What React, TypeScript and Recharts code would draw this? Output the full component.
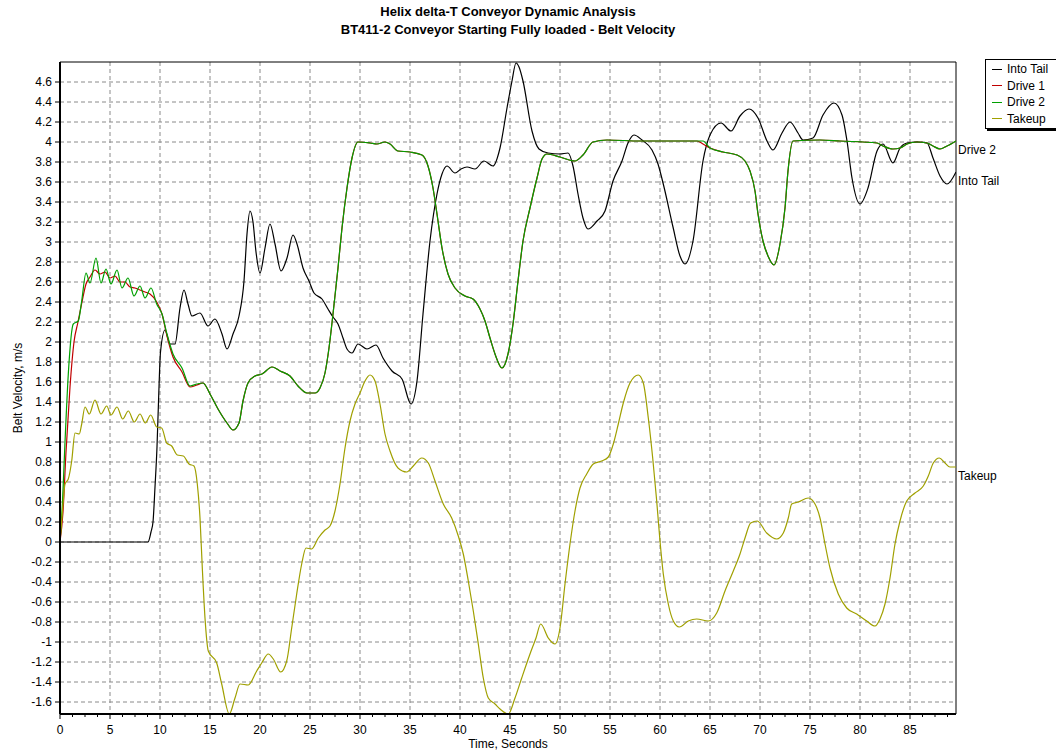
import React from 'react';
import { LineChart, Line, XAxis, YAxis, CartesianGrid, Legend, ReferenceArea } from 'recharts';

const FONT = '"Liberation Sans", Arial, sans-serif';

const titleLines = [
  'Helix delta-T Conveyor Dynamic Analysis',
  'BT411-2 Conveyor Starting Fully loaded - Belt Velocity',
];
const xAxisTitle = 'Time, Seconds';
const yAxisTitle = 'Belt Velocity, m/s';

const xMajorTicks = [0, 5, 10, 15, 20, 25, 30, 35, 40, 45, 50, 55, 60, 65, 70, 75, 80, 85];
const xMinorSteps = [0, 1.25, 2.5, 3.75];
const yTicks = [-1.6, -1.4, -1.2, -1, -0.8, -0.6, -0.4, -0.2, 0, 0.2, 0.4, 0.6, 0.8, 1, 1.2, 1.4, 1.6, 1.8, 2, 2.2, 2.4, 2.6, 2.8, 3, 3.2, 3.4, 3.6, 3.8, 4, 4.2, 4.4, 4.6];
const xDomain: [number, number] = [0, 89.6];
const yDomain: [number, number] = [-1.72, 4.8];

const seriesNames = ['Into Tail', 'Drive 1', 'Drive 2', 'Takeup'];
const seriesColors = ['#000000', '#c00000', '#00a000', '#a0a000'];
const endLabels = ['Into Tail', '', 'Drive 2', 'Takeup'];

// [time s, velocity m/s]
const intoTail: [number, number][] = [
  [0, 0], [8.8, 0], [9.1, 0.1], [9.3, 0.2], [9.5, 0.55], [9.7, 0.95], [9.85, 1.4], [10.05, 1.9], [10.5, 2.12], [11, 1.98], [11.5, 1.98],
  [12, 2.34], [12.4, 2.52], [12.8, 2.38], [13.2, 2.26], [14, 2.29], [14.8, 2.16], [15.5, 2.23], [16.2, 2.08], [16.7, 1.93], [17.3, 2.08],
  [17.9, 2.26], [18.4, 2.61], [18.7, 3.08], [19, 3.31], [19.3, 3.2], [19.6, 2.9], [20, 2.69], [20.5, 2.94], [21, 3.18], [21.5, 2.98],
  [22.1, 2.71], [22.7, 2.84], [23.3, 3.07], [23.7, 2.98], [24.3, 2.74], [24.9, 2.61], [25.4, 2.49], [26.2, 2.43], [26.8, 2.33], [27.3, 2.25],
  [27.8, 2.18], [28.3, 2.04], [28.7, 1.93], [29.2, 1.89], [29.8, 1.98], [30.7, 1.93], [31.6, 1.97], [32.3, 1.84], [33.2, 1.71], [34.2, 1.63],
  [35.1, 1.38], [35.7, 1.61], [36.3, 2.28], [37, 3.01], [37.7, 3.48], [38.2, 3.68], [38.7, 3.76], [39.5, 3.69], [40.1, 3.73], [40.7, 3.75],
  [41.5, 3.73], [42.4, 3.81], [43.3, 3.76], [44, 3.94], [44.7, 4.34], [45.2, 4.61], [45.6, 4.79], [45.9, 4.75], [46.3, 4.61], [47.2, 4.11],
  [47.9, 3.93], [48.8, 3.89], [50, 3.88], [50.8, 3.89], [51.3, 3.76], [51.8, 3.48], [52.3, 3.24], [52.8, 3.13], [53.7, 3.21], [54.5, 3.31],
  [55.3, 3.61], [56.2, 3.81], [56.8, 3.99], [57.4, 4.07], [58.2, 4.02], [59.2, 3.92], [59.8, 3.78], [60.4, 3.55], [61.3, 3.15], [62, 2.86],
  [62.5, 2.78], [63.3, 3.01], [64.3, 3.81], [65, 4.07], [66.1, 4.19], [67.1, 4.11], [68, 4.26], [68.9, 4.33], [69.8, 4.24], [70.7, 4.01],
  [71.3, 3.92], [72.2, 4.09], [73, 4.2], [73.8, 4.09], [74.3, 4.02], [75.3, 4.04], [76.3, 4.27], [77.4, 4.39], [78.2, 4.27], [78.7, 4.01],
  [79.2, 3.64], [80, 3.38], [80.8, 3.54], [81.7, 3.91], [82.3, 3.98], [83.3, 3.79], [84, 3.94], [84.7, 3.99], [85.7, 4.0], [86.7, 3.99],
  [87.3, 3.84], [88, 3.66], [88.7, 3.58], [89.6, 3.7],
];

const drive1: [number, number][] = [
  [0, 0], [0.3, 0.3], [0.6, 0.9], [1, 1.55], [1.4, 2.0], [1.8, 2.2], [2.2, 2.4], [2.6, 2.58], [3, 2.65], [3.5, 2.72], [4, 2.68],
  [4.5, 2.7], [5, 2.64], [5.5, 2.66], [6, 2.6], [6.5, 2.6], [7, 2.55], [7.5, 2.54], [8, 2.52], [8.5, 2.5], [9, 2.48], [9.67, 2.4],
  [10.2, 2.28], [10.7, 2.06], [11.3, 1.85], [12.2, 1.7], [13, 1.55], [13.7, 1.57], [14.3, 1.59], [15, 1.48], [15.8, 1.33], [16.7, 1.19],
  [17.3, 1.12], [17.9, 1.19], [18.3, 1.41], [18.8, 1.59], [19.5, 1.66], [20.2, 1.68], [21.2, 1.75], [22, 1.71], [23, 1.66], [23.8, 1.56],
  [24.7, 1.49], [25.5, 1.49], [26, 1.54], [26.5, 1.69], [26.9, 1.94], [27.3, 2.28], [27.8, 2.74], [28.2, 3.14], [28.7, 3.54], [29.2, 3.84],
  [29.8, 4.0], [31, 3.99], [31.7, 3.98], [32.5, 4.0], [33, 3.98], [33.8, 3.91], [35, 3.9], [36.2, 3.87], [36.8, 3.76], [37.3, 3.54],
  [37.7, 3.28], [38.2, 2.94], [38.8, 2.68], [39.5, 2.54], [40.5, 2.46], [41.3, 2.43], [42, 2.33], [42.5, 2.21], [43, 2.04], [43.5, 1.88],
  [44.2, 1.74], [44.8, 1.88], [45.3, 2.18], [45.8, 2.61], [46.3, 3.01], [47, 3.34], [47.7, 3.64], [48.2, 3.83], [48.7, 3.88], [50, 3.85],
  [51.5, 3.81], [52.3, 3.87], [53.3, 4.0], [54.7, 4.02], [58, 4.01], [62, 4.01], [63.7, 4.01], [64.3, 3.98], [65, 3.94], [66.3, 3.9],
  [67.7, 3.87], [68.5, 3.81], [69, 3.71], [69.5, 3.51], [69.8, 3.28], [70.3, 3.01], [70.8, 2.86], [71.4, 2.77], [72, 2.98], [72.5, 3.34],
  [72.8, 3.71], [73.3, 4.01], [76, 4.02], [78, 4.01], [81.7, 3.99], [82.3, 3.96], [83.3, 3.93], [84, 3.94], [84.7, 3.98], [85.7, 4.0],
  [86.7, 3.99], [87.3, 3.96], [88, 3.93], [88.7, 3.96], [89.6, 4.01],
];

const drive2: [number, number][] = [
  [0, 0], [0.25, 0.4], [0.5, 1.0], [0.83, 1.68], [1.33, 2.18], [1.83, 2.21], [2.17, 2.41], [2.6, 2.69], [3, 2.59], [3.6, 2.84], [4.1, 2.59],
  [4.6, 2.73], [5.1, 2.58], [5.7, 2.72], [6.2, 2.54], [6.8, 2.64], [7.4, 2.46], [8, 2.56], [8.5, 2.44], [9.1, 2.54], [9.67, 2.38],
  [10.2, 2.28], [10.7, 2.08], [11.3, 1.88], [12.2, 1.74], [13, 1.56], [13.7, 1.58], [14.3, 1.59], [15, 1.48], [15.8, 1.33], [16.7, 1.19],
  [17.3, 1.12], [17.9, 1.19], [18.3, 1.41], [18.8, 1.59], [19.5, 1.66], [20.2, 1.68], [21.2, 1.75], [22, 1.71], [23, 1.66], [23.8, 1.56],
  [24.7, 1.49], [25.5, 1.49], [26, 1.54], [26.5, 1.69], [26.9, 1.94], [27.3, 2.28], [27.8, 2.74], [28.2, 3.14], [28.7, 3.54], [29.2, 3.84],
  [29.8, 4.0], [31, 3.99], [31.7, 3.98], [32.5, 4.0], [33, 3.98], [33.8, 3.91], [35, 3.9], [36.2, 3.87], [36.8, 3.76], [37.3, 3.54],
  [37.7, 3.28], [38.2, 2.94], [38.8, 2.68], [39.5, 2.54], [40.5, 2.46], [41.3, 2.43], [42, 2.33], [42.5, 2.21], [43, 2.04], [43.5, 1.88],
  [44.2, 1.74], [44.8, 1.88], [45.3, 2.18], [45.8, 2.61], [46.3, 3.01], [47, 3.34], [47.7, 3.64], [48.2, 3.83], [48.7, 3.88], [50, 3.85],
  [51.5, 3.81], [52.3, 3.87], [53.3, 4.0], [54.7, 4.02], [58, 4.01], [62, 4.01], [64.3, 4.01], [65, 3.94], [66.3, 3.9], [67.7, 3.87],
  [68.5, 3.81], [69, 3.71], [69.5, 3.51], [69.8, 3.28], [70.3, 3.01], [70.8, 2.86], [71.4, 2.77], [72, 2.98], [72.5, 3.34], [72.8, 3.71],
  [73.3, 4.01], [76, 4.02], [78, 4.01], [81.7, 3.99], [82.3, 3.96], [83.3, 3.93], [84, 3.94], [84.7, 3.98], [85.7, 4.0], [86.7, 3.99],
  [87.3, 3.96], [88, 3.93], [88.7, 3.96], [89.6, 4.01],
];

const takeup: [number, number][] = [
  [0, 0.01], [0.27, 0.34], [0.5, 0.58], [0.83, 0.63], [1.17, 0.81], [1.5, 1.09], [1.93, 1.08], [2.17, 1.18], [2.5, 1.35], [2.93, 1.28],
  [3.5, 1.42], [4.1, 1.28], [4.67, 1.36], [5.1, 1.27], [5.7, 1.35], [6.27, 1.23], [6.83, 1.31], [7.43, 1.2], [8, 1.28], [8.53, 1.19],
  [9.07, 1.27], [9.67, 1.15], [10.17, 1.14], [10.67, 0.99], [11.17, 0.96], [11.73, 0.87], [12.33, 0.86], [12.9, 0.78], [13.4, 0.76],
  [13.73, 0.58], [14, 0.24], [14.23, -0.26], [14.5, -0.76], [14.83, -1.09], [15.67, -1.21], [16.17, -1.42], [16.93, -1.72], [17.5, -1.56],
  [18, -1.42], [18.83, -1.43], [19.67, -1.29], [20.17, -1.21], [20.83, -1.12], [21.33, -1.17], [22.07, -1.3], [22.67, -1.19], [23.17, -0.86],
  [23.67, -0.52], [24.17, -0.22], [24.6, -0.06], [25.17, -0.07], [25.83, 0.04], [26.5, 0.12], [27, 0.16], [27.5, 0.31], [28, 0.58],
  [28.5, 0.94], [29, 1.21], [29.5, 1.38], [30, 1.49], [30.5, 1.61], [31, 1.67], [31.5, 1.61], [32, 1.38], [32.5, 1.08], [33, 0.91],
  [33.8, 0.74], [34.67, 0.7], [35.33, 0.76], [36.17, 0.84], [36.83, 0.79], [37.5, 0.61], [38.33, 0.38], [39.17, 0.24], [39.83, 0.06],
  [40.33, -0.12], [40.83, -0.39], [41.33, -0.69], [41.83, -1.02], [42.33, -1.36], [42.83, -1.56], [43.5, -1.62], [44, -1.67], [44.83, -1.72],
  [45.5, -1.56], [46.17, -1.36], [47, -1.12], [47.6, -0.96], [48.07, -0.82], [48.83, -0.96], [49.5, -1.02], [50, -0.86], [50.5, -0.42],
  [51, -0.02], [51.5, 0.31], [52, 0.54], [52.67, 0.68], [53.33, 0.78], [54.17, 0.81], [54.83, 0.85], [55.33, 0.98], [55.83, 1.18],
  [56.33, 1.39], [57, 1.59], [57.83, 1.67], [58.33, 1.59], [58.83, 1.24], [59.27, 0.84], [59.67, 0.41], [60, 0.01], [60.33, -0.32],
  [60.83, -0.62], [61.33, -0.79], [61.93, -0.85], [62.83, -0.79], [63.67, -0.77], [64.83, -0.79], [65.67, -0.71], [66.5, -0.49],
  [67.33, -0.29], [68, -0.12], [68.5, 0.04], [69.07, 0.19], [69.73, 0.21], [70.67, 0.09], [71.67, 0.03], [72.33, 0.09], [72.83, 0.24],
  [73.17, 0.38], [73.83, 0.4], [74.83, 0.44], [75.5, 0.38], [76, 0.24], [76.5, -0.02], [77, -0.26], [77.83, -0.52], [78.67, -0.66],
  [79.67, -0.72], [80.67, -0.79], [81.5, -0.84], [82, -0.77], [82.5, -0.62], [83, -0.36], [83.5, -0.02], [84, 0.21], [84.67, 0.41],
  [85.5, 0.49], [86.33, 0.56], [86.83, 0.66], [87.33, 0.79], [87.93, 0.84], [88.5, 0.79], [89, 0.75], [89.6, 0.75],
];

const seriesPoints = [intoTail, drive1, drive2, takeup];
const seriesData = seriesPoints.map((pts) => pts.map(([t, v]) => ({ t, v })));

const xAllTicks: number[] = [];
xMajorTicks.forEach((m) => xMinorSteps.forEach((s) => { if (m + s <= xDomain[1]) xAllTicks.push(m + s); }));

const X_TICK_SIZE = 6;
const X_TICK_MARGIN = 4;

const XTick = (props: any) => {
  const { x, y, payload } = props;
  const v = payload.value;
  const major = xMajorTicks.indexOf(v) >= 0;
  const axisY = y - X_TICK_SIZE - X_TICK_MARGIN;
  return (
    <g>
      <line x1={x} x2={x} y1={axisY} y2={axisY + (major ? 5 : 3)} stroke="#000" strokeWidth={1} />
      {major && (
        <text x={x} y={y} dy="0.8em" textAnchor="middle" fontSize={12} fontFamily={FONT} fill="#000">
          {v}
        </text>
      )}
    </g>
  );
};

const makeEndLabel = (text: string, lastIndex: number) => (props: any) => {
  if (!text || props.index !== lastIndex) return null;
  return (
    <text x={props.x + 2} y={props.y + 13} fontSize={12} fontFamily={FONT} fill="#000">
      {text}
    </text>
  );
};

const LegendBox = () => (
  <div
    style={{
      border: '1px solid #000',
      boxShadow: '2px 2px 0 #000',
      background: '#fff',
      padding: '1px 6px 1px 6px',
      fontFamily: FONT,
      fontSize: 12,
      width: 100,
      boxSizing: 'border-box',
    }}
  >
    {seriesNames.map((name, i) => (
      <div key={name} style={{ display: 'flex', alignItems: 'center', height: 16.5, whiteSpace: 'nowrap', color: '#000' }}>
        <span style={{ display: 'inline-block', width: 10, height: 0, borderTop: `1.5px solid ${seriesColors[i]}`, marginRight: 5 }} />
        <span>{name}</span>
      </div>
    ))}
  </div>
);

export default function App() {
  return (
    <div style={{ position: 'absolute', left: 0, top: 0, width: 1056, height: 755, overflow: 'hidden', background: '#fff', fontFamily: FONT }}>
      <div style={{ position: 'absolute', left: 0, top: 3, width: 1016, textAlign: 'center', fontWeight: 'bold', fontSize: 13, lineHeight: '18px', color: '#000', zIndex: 2 }}>
        {titleLines.map((l) => (
          <div key={l}>{l}</div>
        ))}
      </div>
      <LineChart width={1056} height={755} margin={{ top: 62, right: 100, bottom: 11, left: 0 }}>
        <CartesianGrid stroke="#8a8a8a" strokeDasharray="4 3" verticalValues={xMajorTicks} horizontalValues={yTicks} />
        <XAxis
          dataKey="t"
          type="number"
          domain={xDomain}
          ticks={xAllTicks}
          interval={0}
          allowDataOverflow
          height={30}
          tickSize={X_TICK_SIZE}
          tickMargin={X_TICK_MARGIN}
          tickLine={false}
          tick={<XTick />}
          axisLine={{ stroke: '#000', strokeWidth: 2 }}
          label={{
            content: (p: any) => {
              const vb = p.viewBox || { x: 60, width: 896, y: 714 };
              return (
                <text x={vb.x + vb.width / 2} y={vb.y + 34} textAnchor="middle" fontSize={12} fontFamily={FONT} fill="#000">
                  {xAxisTitle}
                </text>
              );
            },
          }}
        />
        <YAxis
          type="number"
          domain={yDomain}
          ticks={yTicks}
          interval={0}
          allowDataOverflow
          width={60}
          tickSize={5}
          tickMargin={3}
          tick={{ fontSize: 12, fill: '#000', fontFamily: FONT }}
          tickLine={{ stroke: '#000' }}
          axisLine={{ stroke: '#000', strokeWidth: 2 }}
          label={{
            content: (p: any) => {
              const vb = p.viewBox || { y: 62, height: 652 };
              const cx = 18;
              const cy = vb.y + vb.height / 2;
              return (
                <text x={cx} y={cy} transform={`rotate(-90 ${cx} ${cy})`} textAnchor="middle" dominantBaseline="central" fontSize={12} fontFamily={FONT} fill="#000">
                  {yAxisTitle}
                </text>
              );
            },
          }}
        />
        <ReferenceArea x1={xDomain[0]} x2={xDomain[1]} y1={yDomain[0]} y2={yDomain[1]} fill="#fff" fillOpacity={0} stroke="#000" strokeWidth={1} ifOverflow="visible" />
        {seriesData.map((d, i) => (
          <Line
            key={seriesNames[i]}
            data={d}
            dataKey="v"
            name={seriesNames[i]}
            type="monotone"
            stroke={seriesColors[i]}
            strokeWidth={1.2}
            dot={false}
            activeDot={false}
            isAnimationActive={false}
            label={makeEndLabel(endLabels[i], d.length - 1)}
          />
        ))}
        <Legend layout="horizontal" verticalAlign="middle" align="center" content={<LegendBox />} wrapperStyle={{ left: 985, top: 59, width: 110, height: 70 }} />
      </LineChart>
    </div>
  );
}
